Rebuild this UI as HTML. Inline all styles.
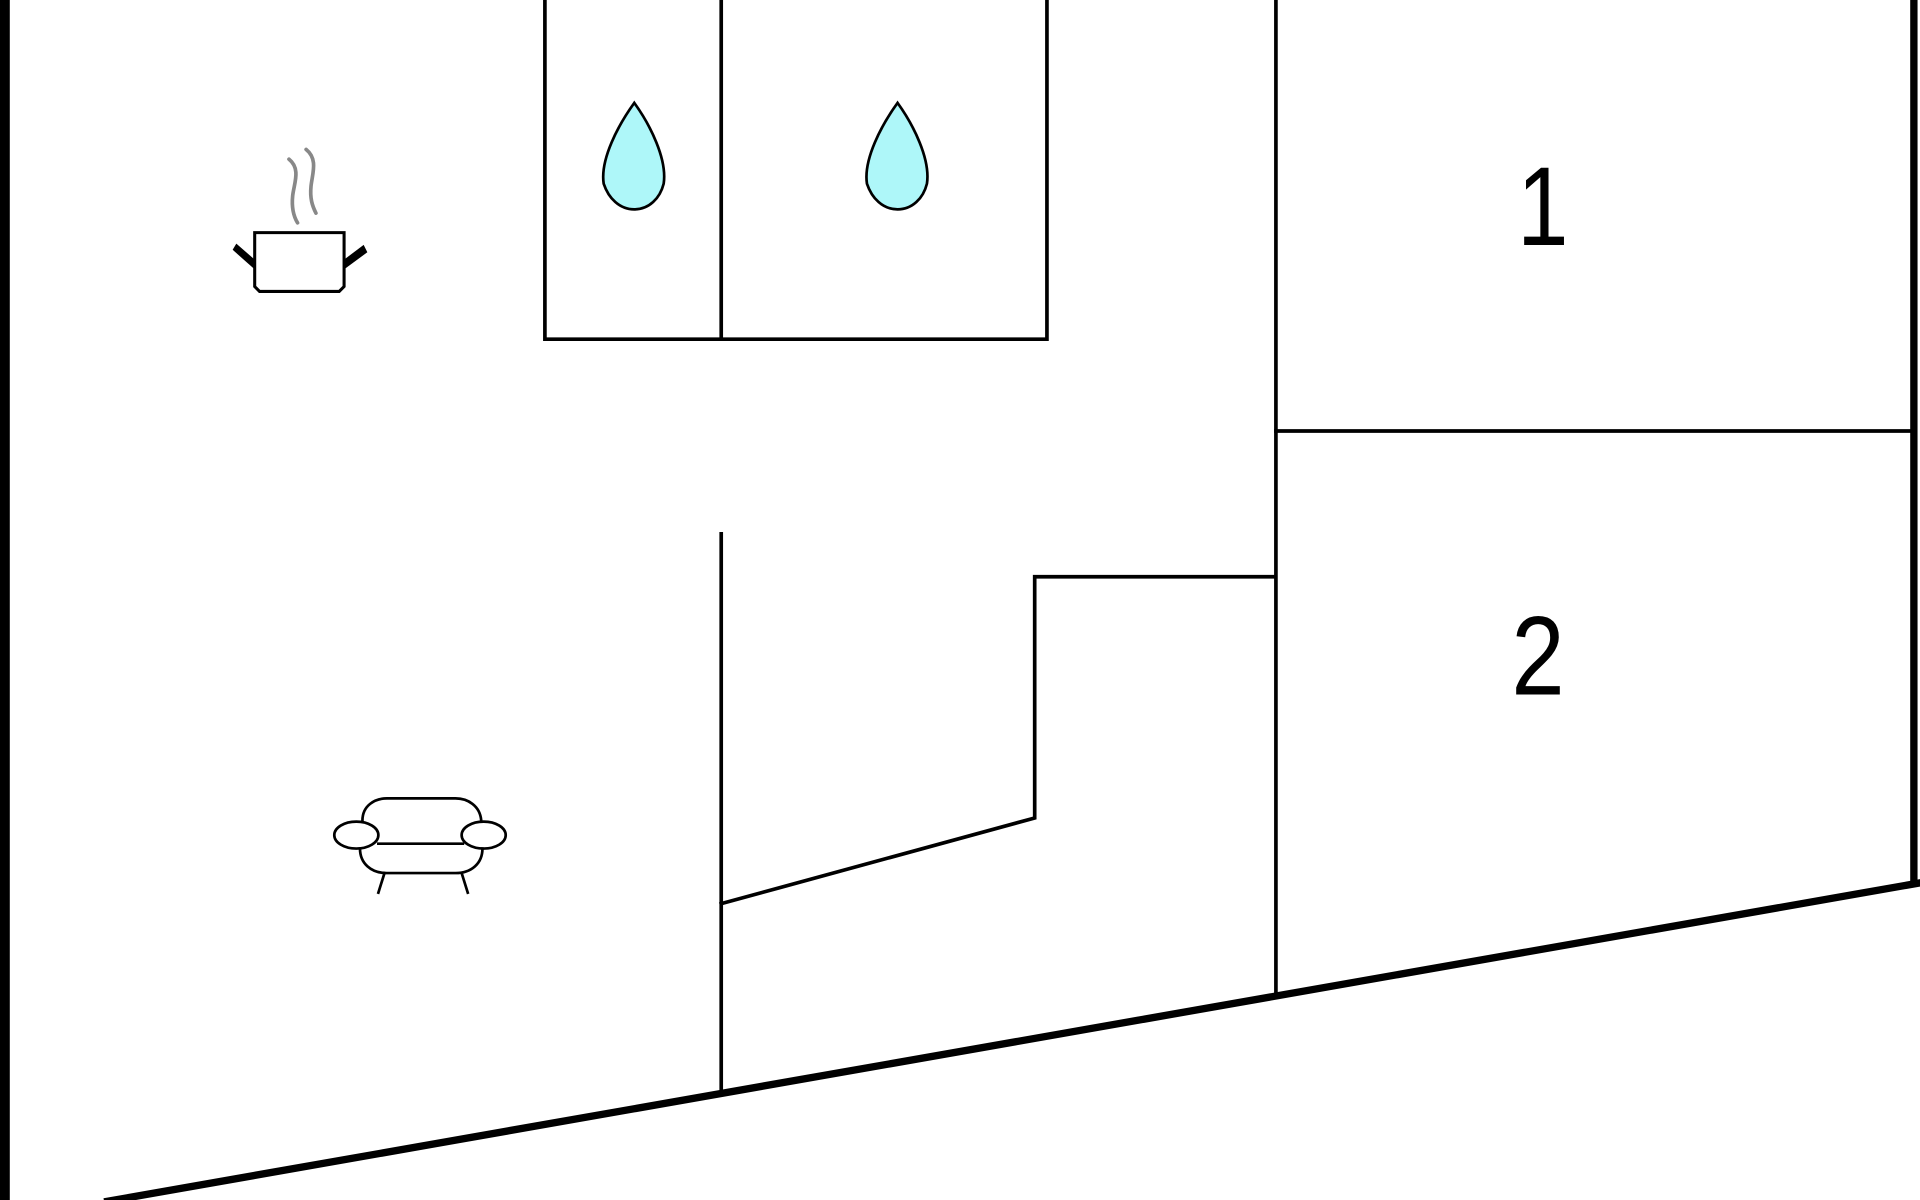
<!DOCTYPE html>
<html><head><meta charset="utf-8"><style>html,body{margin:0;padding:0;background:#fff;overflow:hidden}svg{display:block}</style></head>
<body>
<svg width="1920" height="1200" viewBox="0 0 1568 980" xmlns="http://www.w3.org/2000/svg">
<rect width="1568" height="980" fill="#fff"/>
<g fill="none" stroke="#000" stroke-linecap="square">
<line x1="4" y1="0" x2="4" y2="980" stroke-width="8"/>
<line x1="1563" y1="0" x2="1563" y2="718" stroke-width="6"/>
<line x1="88" y1="981" x2="1568" y2="721" stroke-width="6"/>
<g stroke-width="3">
<polyline points="445,0 445,277 855,277 855,0"/>
<line x1="589" y1="0" x2="589" y2="277"/>
<line x1="1042" y1="0" x2="1042" y2="810"/>
<line x1="1042" y1="352" x2="1561" y2="352"/>
<line x1="589" y1="436" x2="589" y2="890"/>
<polyline points="1040,471 845,471 845,668 589,738"/>
</g>
<g stroke-width="2.2" fill="#aef7f9">
<path d="M518,84 C505,102 490,130 493,150 C497,162 506,171 518,171 C530,171 539,162 542,150 C545,130 531,102 518,84 Z"/>
<path d="M733,84 C720,102 705,130 708,150 C712,162 721,171 733,171 C745,171 754,162 757,150 C760,130 746,102 733,84 Z"/>
</g>
<g stroke="#888" stroke-width="3" stroke-linecap="round">
<path d="M236,130 C246,138 240,150 239,160 C238,170 240,177 243,182"/>
<path d="M250,122 C260,130 255,142 254,152 C253,162 255,168 258,174"/>
</g>
<g stroke-width="2.5">
<path d="M208,190 H281 V234 L277,238 H212 L208,234 Z"/>
</g>
<g fill="#000" stroke="none">
<path d="M208,212 L193,199 L190,204 L208,220 Z"/>
<path d="M281,212 L297,200 L300,206 L281,220 Z"/>
</g>
<g stroke-width="2.2">
<path d="M296,670 C296,658 306,652 316,652 H372 C382,652 392,658 393,670"/>
<ellipse cx="291" cy="682" rx="18" ry="11"/>
<ellipse cx="395" cy="682" rx="18" ry="11"/>
<line x1="309" y1="689" x2="378" y2="689"/>
<path d="M294,693 C294,705 303,713 316,713 H372 C385,713 394,705 394,693"/>
<line x1="314" y1="713" x2="309" y2="729"/>
<line x1="377" y1="713" x2="382" y2="729"/>
</g>
</g>
<g font-family="Liberation Sans, sans-serif" font-size="92" fill="#000" text-anchor="middle">
<text transform="translate(1260,200) scale(0.82,1)">1</text>
<text transform="translate(1256,567) scale(0.85,1)">2</text>
</g>
</svg>
</body></html>
